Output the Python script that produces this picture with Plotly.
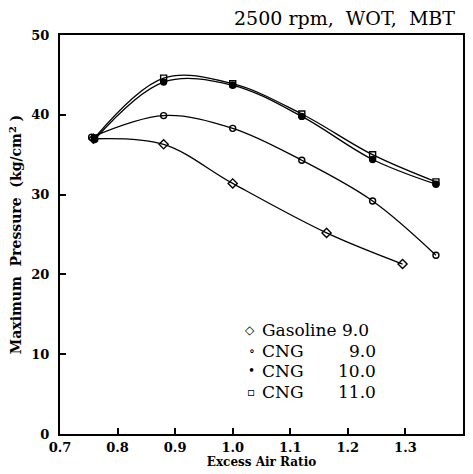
import plotly.graph_objects as go

# Data
x_gas = [0.758, 0.88, 1.00, 1.163, 1.295]
y_gas = [37.0, 36.3, 31.4, 25.2, 21.3]

x_cng9 = [0.755, 0.88, 1.00, 1.12, 1.243, 1.353]
y_cng9 = [37.2, 39.9, 38.3, 34.3, 29.2, 22.4]

x_cng10 = [0.76, 0.88, 1.00, 1.12, 1.243, 1.353]
y_cng10 = [36.9, 44.1, 43.7, 39.8, 34.4, 31.3]

x_cng11 = [0.76, 0.88, 1.00, 1.12, 1.243, 1.353]
y_cng11 = [37.1, 44.6, 43.9, 40.1, 35.0, 31.6]

x_ticks = [0.7, 0.8, 0.9, 1.0, 1.1, 1.2, 1.3, 1.4]
x_ticktext = ["0.7", "0.8", "0.9", "1.0", "1.1", "1.2", "1.3", "1.4"]
y_ticks = [0, 10, 20, 30, 40, 50]

legend_symbols = ["◇", "∘", "•", "▫"]
legend_names = ["Gasoline 9.0", "CNG", "CNG", "CNG"]
legend_values = ["", "9.0", "10.0", "11.0"]

SERIF = "DejaVu Serif"

fig = go.Figure()
series = [
    (x_gas, y_gas, "diamond-open", 7),
    (x_cng9, y_cng9, "circle-open", 6),
    (x_cng10, y_cng10, "circle", 6),
    (x_cng11, y_cng11, "square-open", 6),
]
for xs, ys, sym, sz in series:
    fig.add_trace(go.Scatter(
        x=xs, y=ys, mode="lines+markers",
        line=dict(color="black", width=1.3, shape="spline", smoothing=1.0),
        marker=dict(symbol=sym, size=sz, color="black",
                    line=dict(color="black", width=1.4)),
        showlegend=False, hoverinfo="skip"))

# legend drawn as text rows inside the plot
row_y = [0.262, 0.210, 0.158, 0.106]
for i in range(4):
    fig.add_annotation(xref="paper", yref="paper", x=0.487, y=row_y[i],
                       text=legend_symbols[i], showarrow=False, xanchor="right",
                       yanchor="middle", height=17, borderpad=0,
                       font=dict(family=SERIF, size=12, color="black"))
    fig.add_annotation(xref="paper", yref="paper", x=0.498, y=row_y[i],
                       text=legend_names[i], showarrow=False, xanchor="left",
                       yanchor="middle", height=17, borderpad=0,
                       font=dict(family=SERIF, size=17, color="black"))
    if legend_values[i]:
        fig.add_annotation(xref="paper", yref="paper", x=0.786, y=row_y[i],
                           text=legend_values[i], showarrow=False, xanchor="right",
                           yanchor="middle", height=17, borderpad=0,
                           font=dict(family=SERIF, size=17, color="black"))

fig.add_annotation(xref="paper", yref="paper", x=0.985, y=1.043,
                   text="2500 rpm,  WOT,  MBT", showarrow=False, xanchor="right",
                   yanchor="middle", font=dict(family=SERIF, size=19, color="black"))

fig.update_layout(
    width=473, height=474,
    margin=dict(l=60, r=10, t=35, b=40),
    paper_bgcolor="white", plot_bgcolor="white",
    font=dict(family=SERIF, color="black"),
)
fig.update_xaxes(
    range=[0.7, 1.4], tickvals=x_ticks, ticktext=x_ticktext,
    ticks="inside", ticklen=6, tickwidth=1.5, tickcolor="black",
    showline=True, linecolor="black", linewidth=2, mirror=True,
    showgrid=False, zeroline=False,
    tickfont=dict(family=SERIF, size=13, color="black", weight="bold"),
    title=dict(text="Excess Air Ratio", standoff=2,
               font=dict(family=SERIF, size=12, color="black", weight="bold")),
    automargin=False,
)
fig.update_yaxes(
    range=[0, 50], tickvals=y_ticks,
    ticks="inside", ticklen=6, tickwidth=1.5, tickcolor="black",
    showline=True, linecolor="black", linewidth=2, mirror=True,
    showgrid=False, zeroline=False, ticklabelstandoff=6,
    tickfont=dict(family=SERIF, size=13, color="black", weight="bold"),
    title=dict(text="Maximum&nbsp; Pressure&nbsp; (kg/cm<sup>2</sup>&nbsp;)", standoff=6,
               font=dict(family=SERIF, size=14, color="black", weight="bold")),
    automargin=False,
)

fig.write_html("out.html")
